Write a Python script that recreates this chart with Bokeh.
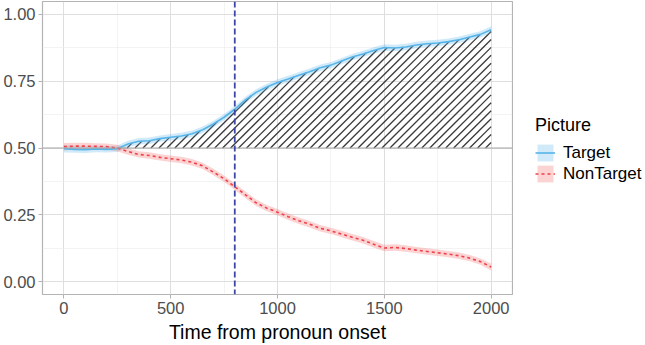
import numpy as np
from bokeh.plotting import figure
from bokeh.layouts import row
from bokeh.models import (ColumnDataSource, FixedTicker, NumeralTickFormatter,
                          Legend, LegendItem, Span, Range1d)
from bokeh.embed import file_html
from bokeh.resources import INLINE

# Proportion of looks over time (ms from pronoun onset)
time = [0, 50, 100, 150, 200, 250, 300, 350, 400, 450, 500, 550, 600, 650, 700,
        750, 800, 850, 900, 950, 1000, 1050, 1100, 1150, 1200, 1250, 1300, 1350,
        1400, 1450, 1500, 1550, 1600, 1650, 1700, 1750, 1800, 1850, 1900, 1950, 2000]

target = [0.497, 0.495, 0.494, 0.496, 0.495, 0.497, 0.515, 0.525, 0.527, 0.535,
          0.540, 0.545, 0.553, 0.568, 0.590, 0.615, 0.645, 0.680, 0.708, 0.728,
          0.745, 0.758, 0.772, 0.785, 0.800, 0.810, 0.825, 0.840, 0.852, 0.865,
          0.876, 0.874, 0.878, 0.885, 0.890, 0.893, 0.898, 0.905, 0.915, 0.925, 0.942]

nontarget = [0.505, 0.507, 0.507, 0.506, 0.505, 0.500, 0.487, 0.476, 0.472, 0.465,
             0.460, 0.455, 0.447, 0.433, 0.410, 0.385, 0.355, 0.325, 0.295, 0.275,
             0.260, 0.243, 0.228, 0.215, 0.200, 0.190, 0.178, 0.166, 0.155, 0.140,
             0.126, 0.128, 0.124, 0.118, 0.113, 0.108, 0.103, 0.097, 0.088, 0.075, 0.055]

# standard errors for the ribbons
target_se = [0.014, 0.013, 0.013, 0.012, 0.012, 0.012, 0.012, 0.012, 0.012, 0.012,
             0.012, 0.012, 0.012, 0.012, 0.012, 0.012, 0.012, 0.012, 0.012, 0.012,
             0.012, 0.012, 0.012, 0.012, 0.012, 0.012, 0.012, 0.012, 0.012, 0.012,
             0.012, 0.012, 0.012, 0.012, 0.012, 0.012, 0.012, 0.012, 0.012, 0.012, 0.013]
nontarget_se = list(target_se)

x_ticks = [0, 500, 1000, 1500, 2000]
y_ticks = [0.0, 0.25, 0.5, 0.75, 1.0]
onset_marker = 800
chance = 0.5
legend_title = "Picture"
series_names = ["Target", "NonTarget"]

t = np.array(time, dtype=float)
tg = np.array(target)
nt = np.array(nontarget)
tse = np.array(target_se)
nse = np.array(nontarget_se)

src = ColumnDataSource(dict(
    t=t, tg=tg, nt=nt,
    tg_lo=tg - tse, tg_hi=tg + tse,
    nt_lo=nt - nse, nt_hi=nt + nse,
))

FONT = "Liberation Sans"
TG_COLOR, NT_COLOR = "#56B4E9", "#F0404A"
TG_FILL, NT_FILL = "#56B4E9", "#F06060"
BAND_ALPHA = 0.28

X0, X1 = -100, 2100
Y0, Y1 = -0.048, 1.048
FRAME_W, FRAME_H = 472, 296

p = figure(width=513, height=345, output_backend="svg", toolbar_location=None,
           x_range=Range1d(X0, X1), y_range=Range1d(Y0, Y1),
           min_border_left=40, min_border_right=1, min_border_top=1,
           min_border_bottom=48)

p.background_fill_color = "white"
p.border_fill_color = "white"
p.outline_line_color = "#B3B3B3"
p.outline_line_width = 1.2

# axes
p.xaxis.ticker = FixedTicker(ticks=x_ticks, minor_ticks=[250, 750, 1250, 1750])
p.yaxis.ticker = FixedTicker(ticks=y_ticks, minor_ticks=[0.125, 0.375, 0.625, 0.875])
p.yaxis.formatter = NumeralTickFormatter(format="0.00")
for ax in (p.xaxis, p.yaxis):
    ax.axis_line_color = None
    ax.major_tick_line_color = "#B3B3B3"
    ax.major_tick_in = 0
    ax.major_tick_out = 4
    ax.minor_tick_line_color = None
    ax.major_label_text_font = FONT
    ax.major_label_text_font_size = "16.5px"
    ax.major_label_text_color = "#4D4D4D"
    ax.major_label_standoff = 3
p.xaxis.axis_label = "Time from pronoun onset"
p.xaxis.axis_label_text_font = FONT
p.xaxis.axis_label_text_font_size = "19.5px"
p.xaxis.axis_label_text_font_style = "normal"
p.xaxis.axis_label_text_color = "#000000"
p.xaxis.axis_label_standoff = 4

# grid
for g in (p.xgrid, p.ygrid):
    g.grid_line_color = "#DEDEDE"
    g.grid_line_width = 1
    g.minor_grid_line_color = "#EBEBEB"
    g.minor_grid_line_width = 0.6

# chance line
p.add_layout(Span(location=chance, dimension="width", line_color="#A6A6A6",
                  line_width=1.2))

# 45-degree hatching between chance and the target curve
px_per_x = FRAME_W / (X1 - X0)
px_per_y = FRAME_H / (Y1 - Y0)
slope = px_per_x / px_per_y          # data-units of y per ms for a 45deg line
step = 8 / px_per_x                  # 8 px between hatch lines
fine_t = np.linspace(t[0], t[-1], 4001)
fine_tg = np.interp(fine_t, t, tg)
above = fine_tg > chance
start = fine_t[np.argmax(above)]
hx0, hy0, hx1, hy1 = [], [], [], []
for xs in np.arange(start, t[-1], step):
    line_y = chance + (fine_t - xs) * slope
    sel = (fine_t >= xs)
    hit = sel & (line_y >= fine_tg)
    if hit.any():
        xe = fine_t[np.argmax(hit)]
    else:
        xe = t[-1]
    if xe <= xs:
        continue
    hx0.append(xs); hy0.append(chance)
    hx1.append(xe); hy1.append(chance + (xe - xs) * slope)
p.segment(x0=hx0, y0=hy0, x1=hx1, y1=hy1, line_color="#3A3A3A", line_width=1.3)

# ribbons and lines
p.varea(x="t", y1="tg_lo", y2="tg_hi", source=src,
        fill_color=TG_FILL, fill_alpha=BAND_ALPHA)
p.varea(x="t", y1="nt_lo", y2="nt_hi", source=src,
        fill_color=NT_FILL, fill_alpha=BAND_ALPHA)
p.line(x="t", y="tg", source=src, line_color=TG_COLOR, line_width=1.6)
p.line(x="t", y="nt", source=src, line_color=NT_COLOR, line_width=1.6,
       line_dash="3 3")

# pronoun-offset marker
p.add_layout(Span(location=onset_marker, dimension="height", line_color="#3B48A6",
                  line_width=1.8, line_dash="6 3"))

# legend panel (key glyphs sit outside its visible range)
lg = figure(width=132, height=345, output_backend="svg", toolbar_location=None,
            x_range=Range1d(0, 1), y_range=Range1d(0, 1),
            x_axis_type=None, y_axis_type=None,
            min_border_left=0, min_border_right=0, min_border_top=0,
            min_border_bottom=0)
lg.outline_line_color = None
lg.grid.visible = False
offscreen = ColumnDataSource(dict(x=[5, 6], lo=[5, 5], hi=[6, 6], y=[5, 5]))
k_tg_band = lg.varea(x="x", y1="lo", y2="hi", source=offscreen,
                     fill_color=TG_FILL, fill_alpha=BAND_ALPHA)
k_tg_line = lg.line(x="x", y="y", source=offscreen, line_color=TG_COLOR, line_width=1.6)
k_nt_band = lg.varea(x="x", y1="lo", y2="hi", source=offscreen,
                     fill_color=NT_FILL, fill_alpha=BAND_ALPHA)
k_nt_line = lg.line(x="x", y="y", source=offscreen, line_color=NT_COLOR, line_width=1.6,
                    line_dash="3 3")

legend = Legend(items=[LegendItem(label=series_names[0], renderers=[k_tg_band, k_tg_line]),
                       LegendItem(label=series_names[1], renderers=[k_nt_band, k_nt_line])],
                location=(22, 110), title=legend_title,
                title_text_font=FONT, title_text_font_size="18px",
                title_text_font_style="normal", title_text_color="#000000",
                title_standoff=6,
                label_text_font=FONT, label_text_font_size="17px",
                label_text_color="#000000",
                glyph_width=20, glyph_height=21, label_height=21,
                label_standoff=8, spacing=0, padding=0, margin=0,
                border_line_color=None, background_fill_alpha=0)
lg.add_layout(legend, "center")

layout = row(p, lg, spacing=0)
open("out.html", "w").write(file_html(layout, INLINE))
